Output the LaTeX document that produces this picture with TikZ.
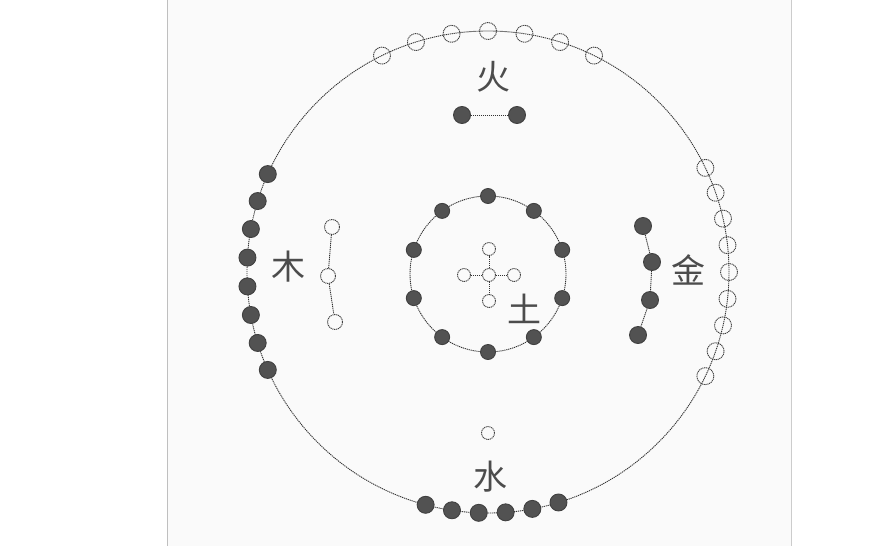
\documentclass[tikz,border=0pt]{standalone}
\usepackage{fontspec}
\newfontfamily\cjk{Noto Sans CJK SC}
\begin{document}
\begin{tikzpicture}[
    x=1pt, y=-1pt,
    bead/.style={circle, inner sep=0pt, line width=0.9pt},
    yang/.style={bead, draw=black!75, dash pattern=on 1.2pt off 0.7pt, minimum size=17pt},
    yin/.style={bead, draw=black!75, fill=black!68, minimum size=17pt},
    small yang/.style={yang, minimum size=13pt},
    small yin/.style={yin, minimum size=15pt},
    ring/.style={draw=black!80, dash pattern=on 1.2pt off 0.8pt, line width=0.9pt},
    link/.style={draw=black!80, dash pattern=on 1.2pt off 0.8pt, line width=0.9pt},
    element/.style={font=\cjk\fontsize{34}{34}\selectfont, text=black!70, inner sep=0pt}
  ]
  \useasboundingbox (0,0) rectangle (893,546);

  % Page
  \fill[black!2] (167,0) rectangle (791,546);
  \draw[black!25] (167,0) -- (167,546);
  \draw[black!20] (791,0) -- (791,546);

  \coordinate (C) at (488,272);
  \coordinate (E) at (488,274);

  % Outer ring
  \draw[ring] (C) circle (241pt);
  \foreach \k in {0,...,6}
    \node[yang] (fire-\k) at ([shift={(90+8.7*\k-26.1:241pt)}]C) {};
  \foreach \k in {0,...,7}
    \node[yin] (wood-\k) at ([shift={(180+6.85*\k-23.975:241pt)}]C) {};
  \foreach \k in {0,...,8}
    \node[yang] (metal-\k) at ([shift={(6.4*\k-25.6:241pt)}]C) {};
  \foreach \k in {0,...,5}
    \node[yin] (water-\k) at ([shift={(271+6.4*\k-16:241pt)}]C) {};

  % Fire
  \node[element] (huo) at (493,77) {火};
  \node[yin] (two-1) at (462,115) {};
  \node[yin] (two-2) at (517,115) {};
  \draw[link] (two-1) -- (two-2);

  % Wood
  \node[element] (mu) at (288,267) {木};
  \node[yang, minimum size=15pt] (three-1) at (332,227) {};
  \node[yang, minimum size=15pt] (three-2) at (328,276) {};
  \node[yang, minimum size=15pt] (three-3) at (335,322) {};
  \draw[link] (three-1) -- (three-2) -- (three-3);

  % Metal
  \node[element] (jin) at (688,270) {金};
  \node[yin] (four-1) at (643,226) {};
  \node[yin] (four-2) at (652,262) {};
  \node[yin] (four-3) at (650,300) {};
  \node[yin] (four-4) at (638,335) {};
  \draw[link] (four-1) -- (four-2) -- (four-3) -- (four-4);

  % Water
  \node[element] (shui) at (490,477) {水};
  \node[small yang] (one) at (488,433) {};

  % Earth
  \draw[ring] (E) circle (78pt);
  \foreach \k in {0,...,9}
    \node[small yin] (ten-\k) at ([shift={(18+36*\k:78pt)}]E) {};
  \node[small yang] (five-0) at (489,275) {};
  \node[small yang] (five-1) at (489,249) {};
  \node[small yang] (five-2) at (464,275) {};
  \node[small yang] (five-3) at (514,275) {};
  \node[small yang] (five-4) at (489,301) {};
  \foreach \k in {1,...,4}
    \draw[link] (five-0) -- (five-\k);
  \node[element] (tu) at (524,309) {土};

\end{tikzpicture}
\end{document}
